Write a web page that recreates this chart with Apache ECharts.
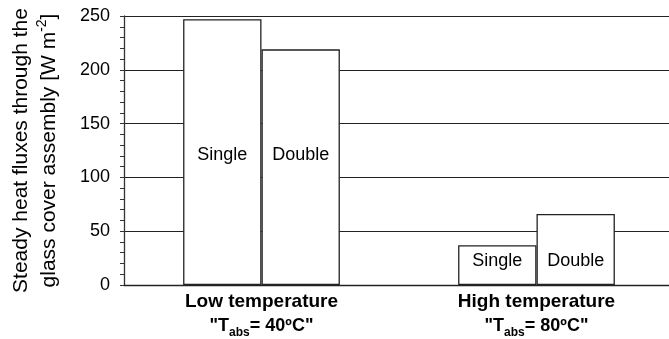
<!DOCTYPE html>
<html>
<head>
<meta charset="utf-8">
<script src="https://cdn.jsdelivr.net/npm/echarts@6/dist/echarts.min.js"></script>
<style>
  html, body { margin: 0; padding: 0; background: #fff; }
  #chart { width: 669px; height: 339px; }
</style>
</head>
<body>
<div id="chart"></div>
<script>
// Steady heat fluxes (W m^-2) through single and double glass covers
const categories = ['Low temperature', 'High temperature'];
const tempLabels = ['40ºC', '80ºC'];
const singleValues = [247, 37];
const doubleValues = [219, 66];
const yTicks = [0, 50, 100, 150, 200, 250];

const FONT = '"Liberation Sans", Arial, sans-serif';
const chart = echarts.init(document.getElementById('chart'));

// Bar names sit at a fixed height above the base in each group:
// mid-height for the tall low-temperature bars, near the base otherwise.
function barItems(values, name) {
  return values.map((v, i) => ({
    value: v,
    label: { show: true, position: 'insideBottom', distance: i === 0 ? 121 : 15, formatter: name }
  }));
}

const barStyle = { color: '#fff', borderColor: '#222', borderWidth: 1.3 };
const barLabel = { color: '#000', fontFamily: FONT, fontSize: 18 };

chart.setOption({
  animation: false,
  backgroundColor: '#fff',
  grid: { left: 124, right: -5, top: 16, bottom: 54, containLabel: false, outerBoundsMode: 'none' },
  xAxis: {
    type: 'category',
    data: categories,
    axisLine: { lineStyle: { color: '#222', width: 1.3 } },
    axisTick: { show: false },
    axisLabel: {
      margin: 4,
      formatter: (val, idx) =>
        '{h|' + val + '}\n{b|"T}{sub|abs}{b|= ' + tempLabels[idx] + '"}',
      rich: {
        h: { fontFamily: FONT, fontWeight: 'bold', fontSize: 19, color: '#000', lineHeight: 25 },
        b: { fontFamily: FONT, fontWeight: 'bold', fontSize: 18, color: '#000', lineHeight: 25 },
        sub: { fontFamily: FONT, fontWeight: 'bold', fontSize: 12, color: '#000',
               lineHeight: 25, verticalAlign: 'bottom', padding: [10, 0, 0, 0] }
      }
    }
  },
  yAxis: {
    type: 'value',
    min: yTicks[0],
    max: yTicks[yTicks.length - 1],
    interval: 50,
    name: '{t|Steady heat fluxes through the}\n{t|glass cover assembly [W m}{sup|-2}{t|]}',
    nameLocation: 'middle',
    nameRotate: 90,
    nameGap: 61,
    nameTextStyle: {
      rich: {
        t: { fontFamily: FONT, fontSize: 21, color: '#000', lineHeight: 28 },
        sup: { fontFamily: FONT, fontSize: 14, color: '#000', lineHeight: 28,
               verticalAlign: 'top', padding: [0, 0, 12, 0] }
      }
    },
    axisLine: { show: true, lineStyle: { color: '#333', width: 1.3 } },
    axisTick: { show: true, inside: false, length: 4, lineStyle: { color: '#333' } },
    minorTick: { show: true, splitNumber: 5, length: 4, lineStyle: { color: '#333' } },
    splitLine: { show: true, lineStyle: { color: '#222', width: 1 } },
    axisLabel: { margin: 14, color: '#000', fontFamily: FONT, fontSize: 18 }
  },
  series: [
    {
      name: 'Single', type: 'bar', data: barItems(singleValues, 'Single'),
      barGap: '0%', barCategoryGap: '43%',
      itemStyle: barStyle, label: barLabel
    },
    {
      name: 'Double', type: 'bar', data: barItems(doubleValues, 'Double'),
      barGap: '0%', barCategoryGap: '43%',
      itemStyle: barStyle, label: barLabel
    }
  ]
});
</script>
</body>
</html>
